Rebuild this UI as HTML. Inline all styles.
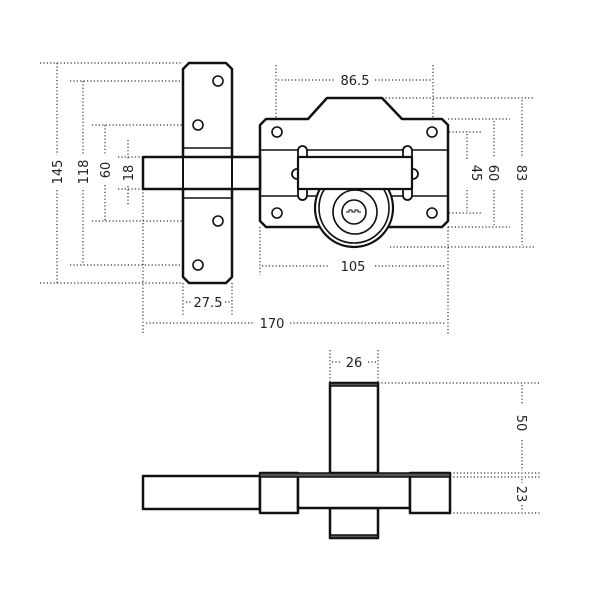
<!DOCTYPE html>
<html><head><meta charset="utf-8"><style>
html,body{margin:0;padding:0;background:#fff}
svg{display:block}
text{font-family:"DejaVu Sans","Liberation Sans",sans-serif;font-size:13px;fill:#222}
</style></head><body>
<svg width="600" height="600" viewBox="0 0 600 600" xmlns="http://www.w3.org/2000/svg">
<g stroke="#333" stroke-width="1.2" stroke-dasharray="1.2,2.2" fill="none">
<line x1="40" y1="63" x2="183" y2="63"/>
<line x1="40" y1="283" x2="183" y2="283"/>
<line x1="70" y1="81" x2="218" y2="81"/>
<line x1="70" y1="265" x2="218" y2="265"/>
<line x1="92" y1="125" x2="198" y2="125"/>
<line x1="92" y1="221" x2="198" y2="221"/>
<line x1="118" y1="157" x2="143" y2="157"/>
<line x1="118" y1="189" x2="143" y2="189"/>
<line x1="57" y1="63" x2="57" y2="155"/><line x1="57" y1="190" x2="57" y2="283"/>
<line x1="83" y1="81" x2="83" y2="155"/><line x1="83" y1="190" x2="83" y2="265"/>
<line x1="105" y1="125" x2="105" y2="155"/><line x1="105" y1="185" x2="105" y2="221"/>
<line x1="128" y1="140" x2="128" y2="160"/><line x1="128" y1="186" x2="128" y2="205"/>
<line x1="143" y1="189" x2="143" y2="335"/>
<line x1="183" y1="283" x2="183" y2="315"/>
<line x1="232" y1="283" x2="232" y2="315"/>
<line x1="260" y1="227" x2="260" y2="275"/>
<line x1="448" y1="227" x2="448" y2="335"/>
<line x1="146" y1="323" x2="255" y2="323"/><line x1="290" y1="323" x2="446" y2="323"/>
<line x1="186" y1="302" x2="192" y2="302"/><line x1="225" y1="302" x2="230" y2="302"/>
<line x1="262" y1="266" x2="330" y2="266"/><line x1="375" y1="266" x2="446" y2="266"/>
<line x1="276" y1="65" x2="276" y2="140"/><line x1="433" y1="65" x2="433" y2="140"/>
<line x1="278" y1="80" x2="335" y2="80"/><line x1="375" y1="80" x2="431" y2="80"/>
<line x1="382" y1="98" x2="535" y2="98"/>
<line x1="448" y1="119" x2="510" y2="119"/>
<line x1="432" y1="132" x2="482" y2="132"/>
<line x1="432" y1="213" x2="482" y2="213"/>
<line x1="448" y1="227" x2="510" y2="227"/>
<line x1="390" y1="247" x2="535" y2="247"/>
<line x1="467" y1="134" x2="467" y2="160"/><line x1="467" y1="190" x2="467" y2="211"/>
<line x1="494" y1="121" x2="494" y2="158"/><line x1="494" y1="190" x2="494" y2="225"/>
<line x1="522" y1="100" x2="522" y2="158"/><line x1="522" y1="190" x2="522" y2="245"/>
<line x1="330" y1="350" x2="330" y2="383"/><line x1="378" y1="350" x2="378" y2="383"/>
<line x1="332" y1="362" x2="340" y2="362"/><line x1="368" y1="362" x2="376" y2="362"/>
<line x1="378" y1="383" x2="540" y2="383"/>
<line x1="450" y1="473" x2="540" y2="473"/>
<line x1="450" y1="477" x2="540" y2="477"/>
<line x1="450" y1="513" x2="540" y2="513"/>
<line x1="522" y1="385" x2="522" y2="405"/><line x1="522" y1="440" x2="522" y2="471"/>
<line x1="522" y1="479" x2="522" y2="483"/><line x1="522" y1="505" x2="522" y2="511"/>
</g>
<g font-size="13">
<text x="0" y="0" text-anchor="middle" transform="translate(62,172) rotate(-90)">145</text>
<text x="0" y="0" text-anchor="middle" transform="translate(88,172) rotate(-90)">118</text>
<text x="0" y="0" text-anchor="middle" transform="translate(110,170) rotate(-90)">60</text>
<text x="0" y="0" text-anchor="middle" transform="translate(133,173) rotate(-90)">18</text>
<text x="0" y="0" text-anchor="middle" transform="translate(472,173) rotate(90)">45</text>
<text x="0" y="0" text-anchor="middle" transform="translate(489,173) rotate(90)">60</text>
<text x="0" y="0" text-anchor="middle" transform="translate(517,173) rotate(90)">83</text>
<text x="355" y="85" text-anchor="middle">86.5</text>
<text x="353" y="271" text-anchor="middle">105</text>
<text x="208" y="307" text-anchor="middle">27.5</text>
<text x="272" y="328" text-anchor="middle">170</text>
<text x="354" y="367" text-anchor="middle">26</text>
<text x="0" y="0" text-anchor="middle" transform="translate(517,423) rotate(90)">50</text>
<text x="0" y="0" text-anchor="middle" transform="translate(517,494) rotate(90)">23</text>
</g>
<g stroke="#111" stroke-width="2.5" fill="#fff" stroke-linejoin="round">
<path d="M266,119 L308,119 L327,98 L382,98 L402,119 L442,119 L448,125 L448,221 L442,227 L266,227 L260,221 L260,125 Z"/>
<line x1="260" y1="150" x2="448" y2="150" stroke-width="1.6"/>
<line x1="260" y1="196" x2="448" y2="196" stroke-width="1.6"/>
<path d="M189,63 L226,63 L232,69 L232,277 L226,283 L189,283 L183,277 L183,69 Z"/>
<line x1="183" y1="148" x2="232" y2="148" stroke-width="1.6"/>
<line x1="183" y1="198" x2="232" y2="198" stroke-width="1.6"/>
<rect x="143" y="157" width="117" height="32"/>
<line x1="183" y1="157" x2="183" y2="189" stroke-width="2"/>
<line x1="232" y1="157" x2="232" y2="189" stroke-width="2"/>
<circle cx="354" cy="208" r="39" stroke-width="2.2"/>
<circle cx="354" cy="208" r="35" stroke-width="1.6"/>
<circle cx="355" cy="212" r="22" stroke-width="1.6"/>
<circle cx="354" cy="212" r="12" stroke-width="1.6"/>
<path d="M346,212 h3 v-2 h3 v2 h3 v-2 h3 v2 h3" stroke-width="1" fill="none"/>
<circle cx="297" cy="174" r="5" stroke-width="1.8"/>
<circle cx="413" cy="174" r="5" stroke-width="1.8"/>
<rect x="298" y="146" width="9" height="54" rx="4.5" stroke-width="1.8"/>
<rect x="403" y="146" width="9" height="54" rx="4.5" stroke-width="1.8"/>
<rect x="298" y="157" width="114" height="32" stroke-width="2.2"/>
<g stroke-width="1.6">
<circle cx="218" cy="81" r="5"/><circle cx="198" cy="125" r="5"/>
<circle cx="218" cy="221" r="5"/><circle cx="198" cy="265" r="5"/>
<circle cx="277" cy="132" r="5"/><circle cx="432" cy="132" r="5"/>
<circle cx="277" cy="213" r="5"/><circle cx="432" cy="213" r="5"/>
</g>
<rect x="330" y="383" width="48" height="90"/>
<rect x="330" y="508" width="48" height="30"/>
<rect x="143" y="476" width="117" height="33"/>
<rect x="260" y="473" width="38" height="40"/>
<rect x="298" y="476" width="112" height="32"/>
<rect x="410" y="473" width="40" height="40"/>
<rect x="260" y="473" width="190" height="4" fill="#555" stroke-width="1.5"/>
<rect x="330" y="383" width="48" height="3" fill="#555" stroke-width="1.5"/>
<rect x="330" y="535" width="48" height="3" fill="#555" stroke-width="1.5"/>
</g>
</svg>
</body></html>
